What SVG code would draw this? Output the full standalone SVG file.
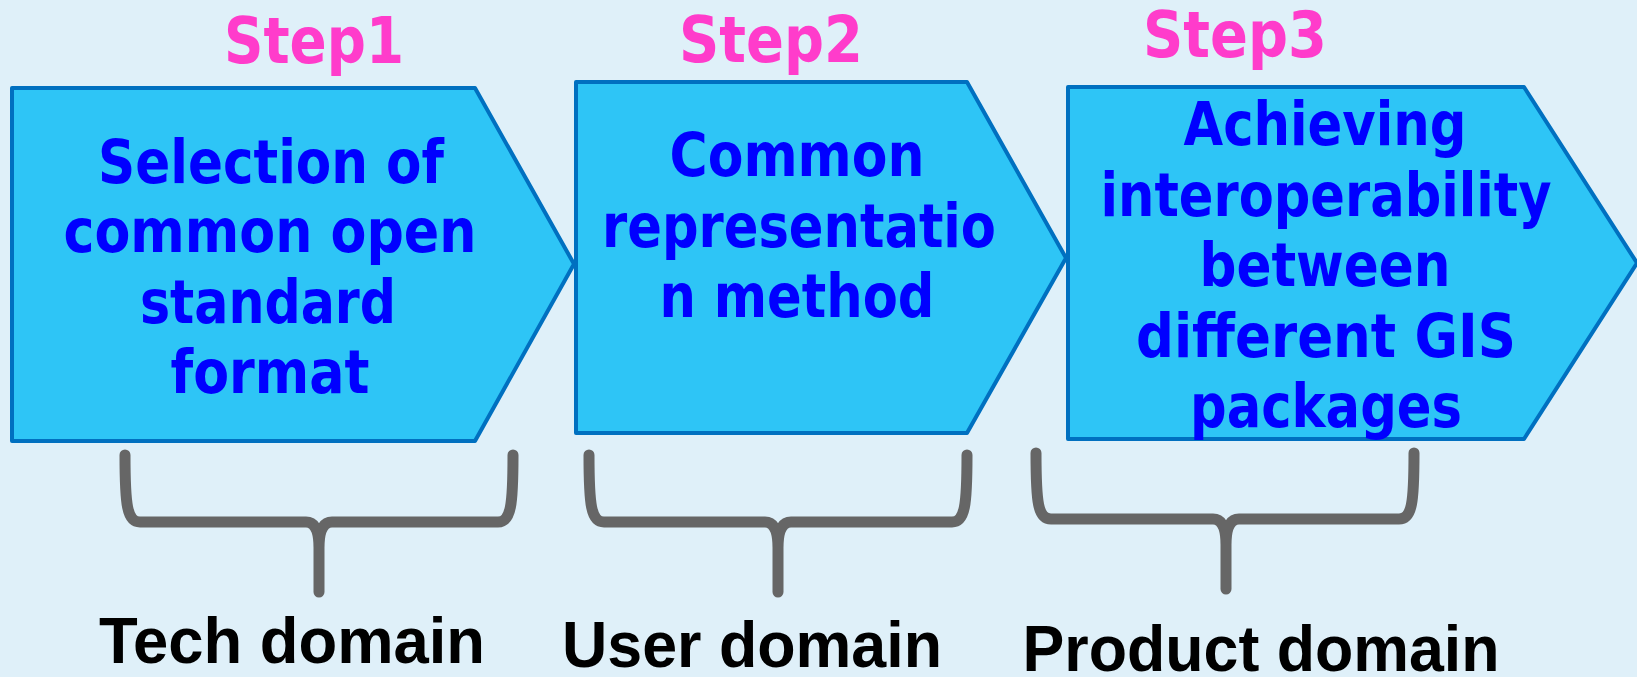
<svg xmlns="http://www.w3.org/2000/svg" width="1637" height="677" viewBox="0 0 1637 677">
<style>
.box{fill:#2EC5F6;stroke:#0070C0;stroke-width:4;stroke-linejoin:round}
.t{font-family:"DejaVu Sans",Verdana,sans-serif;font-weight:bold;font-size:60px;fill:#0000FF;text-anchor:middle}
.step{font-family:"DejaVu Sans",Verdana,sans-serif;font-weight:bold;font-size:64px;fill:#FF3CCB;text-anchor:middle}
.dom{font-family:"Liberation Sans",Arial,sans-serif;font-weight:bold;font-size:64px;fill:#000000;text-anchor:middle}
.brace{fill:none;stroke:#666666;stroke-width:11;stroke-linecap:round;stroke-linejoin:round}
</style>
<rect x="0" y="0" width="1637" height="677" fill="#DFF0F9"/>
<g id="step1">
<polygon class="box" points="12,88 475,88 574,264 475,441 12,441"/>
<text class="step" x="314" y="63" textLength="180" lengthAdjust="spacingAndGlyphs">Step1</text>
<text class="t" x="271" y="183" textLength="346" lengthAdjust="spacingAndGlyphs">Selection of</text>
<text class="t" x="270" y="252" textLength="413" lengthAdjust="spacingAndGlyphs">common open</text>
<text class="t" x="268" y="323" textLength="256" lengthAdjust="spacingAndGlyphs">standard</text>
<text class="t" x="270" y="393" textLength="199" lengthAdjust="spacingAndGlyphs">format</text>
</g>
<g id="step2">
<polygon class="box" points="576,82 967,82 1066,258 967,433 576,433"/>
<text class="step" x="771" y="62" textLength="184" lengthAdjust="spacingAndGlyphs">Step2</text>
<text class="t" x="797" y="176" textLength="255" lengthAdjust="spacingAndGlyphs">Common</text>
<text class="t" x="799" y="247" textLength="394" lengthAdjust="spacingAndGlyphs">representatio</text>
<text class="t" x="797" y="317" textLength="275" lengthAdjust="spacingAndGlyphs">n method</text>
</g>
<g id="step3">
<polygon class="box" points="1068,87 1524,87 1637,263 1524,439 1068,439"/>
<text class="step" x="1235" y="57" textLength="184" lengthAdjust="spacingAndGlyphs">Step3</text>
<text class="t" x="1325" y="145" textLength="283" lengthAdjust="spacingAndGlyphs">Achieving</text>
<text class="t" x="1326" y="216" textLength="451" lengthAdjust="spacingAndGlyphs">interoperability</text>
<text class="t" x="1325" y="286" textLength="251" lengthAdjust="spacingAndGlyphs">between</text>
<text class="t" x="1326" y="357" textLength="380" lengthAdjust="spacingAndGlyphs">different GIS</text>
<text class="t" x="1326" y="427" textLength="272" lengthAdjust="spacingAndGlyphs">packages</text>
</g>
<g id="connectors">
<path class="brace" d="M125,455 C125,505 127,522 140,522 L306,522 C316,522 319,532 319,548 L319,592 M513,455 C513,505 511,522 498,522 L332,522 C322,522 319,532 319,548"/>
<path class="brace" d="M589,455 C589,505 591,522 604,522 L765,522 C775,522 778,532 778,548 L778,592 M967,455 C967,505 965,522 952,522 L791,522 C781,522 778,532 778,548"/>
<path class="brace" d="M1036,453 C1036,503 1038,519 1051,519 L1213,519 C1223,519 1226,529 1226,545 L1226,589 M1414,453 C1414,503 1412,519 1399,519 L1239,519 C1229,519 1226,529 1226,545"/>
</g>
<g id="domains">
<text class="dom" x="292" y="663" textLength="386" lengthAdjust="spacingAndGlyphs">Tech domain</text>
<text class="dom" x="752" y="667" textLength="380" lengthAdjust="spacingAndGlyphs">User domain</text>
<text class="dom" x="1261" y="671" textLength="477" lengthAdjust="spacingAndGlyphs">Product domain</text>
</g>
</svg>
